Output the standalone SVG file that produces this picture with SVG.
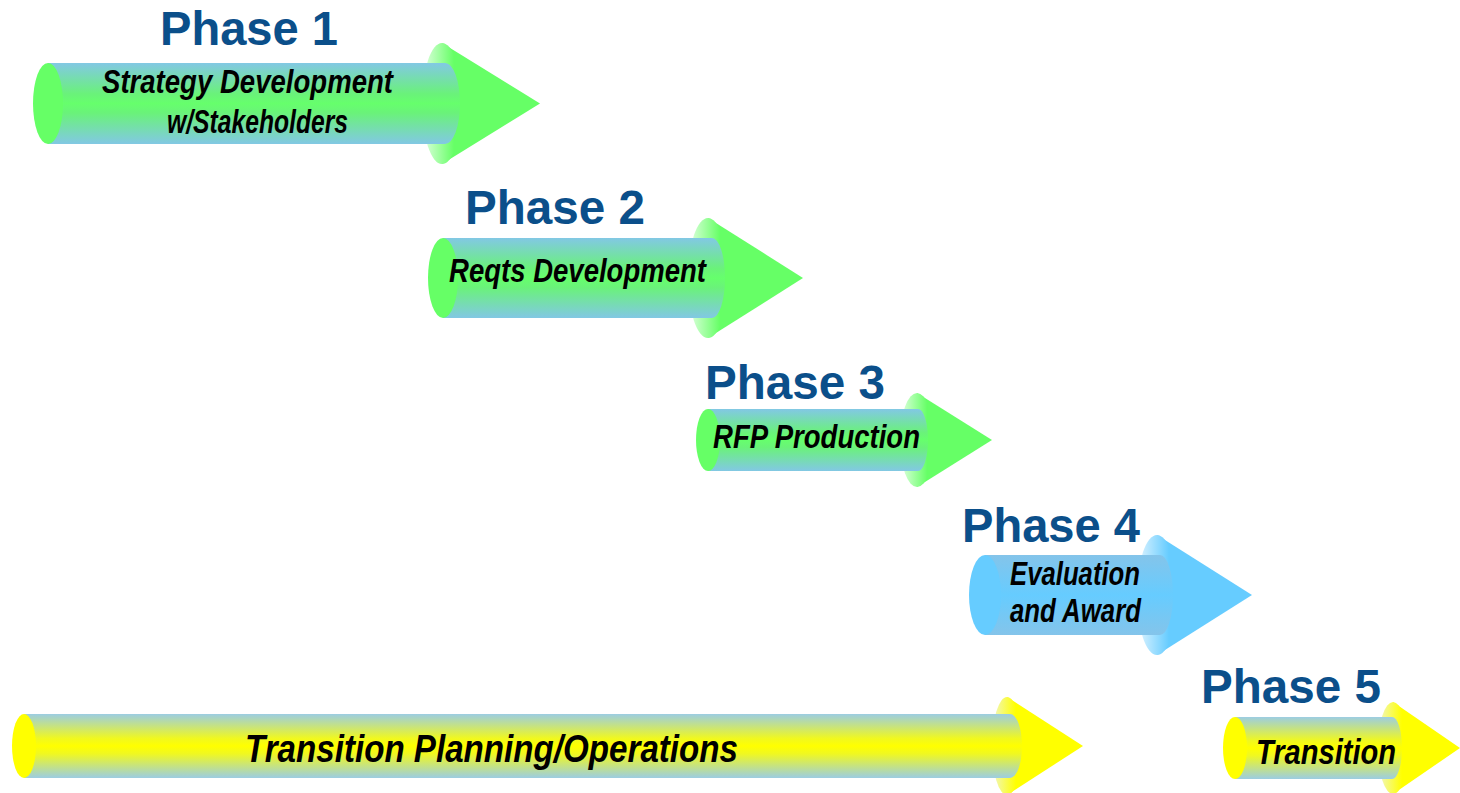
<svg xmlns="http://www.w3.org/2000/svg" width="1460" height="793" viewBox="0 0 1460 793">
<defs>
<linearGradient id="bodyG" x1="0" y1="0" x2="0" y2="1">
<stop offset="0" stop-color="#82c8e4"/><stop offset="0.38" stop-color="#6af27a"/><stop offset="0.5" stop-color="#66ff6c"/><stop offset="0.62" stop-color="#6af27a"/><stop offset="1" stop-color="#82c8e4"/>
</linearGradient>
<linearGradient id="bodyB" x1="0" y1="0" x2="0" y2="1">
<stop offset="0" stop-color="#84c4ea"/><stop offset="0.5" stop-color="#66ccff"/><stop offset="1" stop-color="#84c4ea"/>
</linearGradient>
<linearGradient id="bodyY" x1="0" y1="0" x2="0" y2="1">
<stop offset="0" stop-color="#9ccde2"/><stop offset="0.38" stop-color="#f0f820"/><stop offset="0.5" stop-color="#ffff00"/><stop offset="0.62" stop-color="#f0f820"/><stop offset="1" stop-color="#9ccde2"/>
</linearGradient>
<linearGradient id="baseG" x1="0" y1="0" x2="1" y2="0">
<stop offset="0" stop-color="#e2ffe2"/><stop offset="0.8" stop-color="#66ff66"/>
</linearGradient>
<linearGradient id="baseB" x1="0" y1="0" x2="1" y2="0">
<stop offset="0" stop-color="#e0f4ff"/><stop offset="0.8" stop-color="#66ccff"/>
</linearGradient>
<linearGradient id="baseY" x1="0" y1="0" x2="1" y2="0">
<stop offset="0" stop-color="#f0f6c8"/><stop offset="0.8" stop-color="#ffff00"/>
</linearGradient>
</defs>
<style>
.phase{font-family:"Liberation Sans",Arial,sans-serif;font-weight:bold;font-size:47.5px;fill:#0b4f8a}
.lbl{font-family:"Liberation Sans",Arial,sans-serif;font-weight:bold;font-style:italic;fill:#000}
.g{fill:#66ff66}.b{fill:#66ccff}.y{fill:#ffff00}
</style>
<rect width="1460" height="793" fill="#fff"/>
<g id="connectors"/>

<g id="phase1">
<text class="phase" x="160" y="45" textLength="178" lengthAdjust="spacingAndGlyphs">Phase 1</text>
<polygon class="g" points="442,43 540,103.5 442,164"/>
<ellipse cx="442" cy="103.5" rx="20" ry="60.5" fill="url(#baseG)"/>
<path d="M48,63 L445,63 A15,40.5 0 0 1 445,144 L48,144 Z" fill="url(#bodyG)"/>
<ellipse class="g" cx="48" cy="103.5" rx="15" ry="40.5"/>
<text class="lbl" x="102" y="93" font-size="34" textLength="291" lengthAdjust="spacingAndGlyphs">Strategy Development</text>
<text class="lbl" x="167" y="133" font-size="34" textLength="181" lengthAdjust="spacingAndGlyphs">w/Stakeholders</text>
</g>

<g id="phase2">
<text class="phase" x="465" y="224" textLength="180" lengthAdjust="spacingAndGlyphs">Phase 2</text>
<polygon class="g" points="708,218 803,278 708,338"/>
<ellipse cx="708" cy="278" rx="20" ry="60" fill="url(#baseG)"/>
<path d="M443,238 L712,238 A13,40 0 0 1 712,318 L443,318 Z" fill="url(#bodyG)"/>
<ellipse class="g" cx="443" cy="278" rx="15" ry="40"/>
<text class="lbl" x="449" y="282" font-size="33" textLength="257" lengthAdjust="spacingAndGlyphs">Reqts Development</text>
</g>

<g id="phase3">
<text class="phase" x="705" y="399" textLength="180" lengthAdjust="spacingAndGlyphs">Phase 3</text>
<polygon class="g" points="917,393 992,440 917,487"/>
<ellipse cx="917" cy="440" rx="17" ry="47" fill="url(#baseG)"/>
<path d="M708,409 L918,409 A10,31 0 0 1 918,471 L708,471 Z" fill="url(#bodyG)"/>
<ellipse class="g" cx="708" cy="440" rx="12" ry="31"/>
<text class="lbl" x="713" y="448" font-size="33" textLength="207" lengthAdjust="spacingAndGlyphs">RFP Production</text>
</g>

<g id="phase4">
<text class="phase" x="962" y="542" textLength="178" lengthAdjust="spacingAndGlyphs">Phase 4</text>
<polygon class="b" points="1157,535 1252,595 1157,655"/>
<ellipse cx="1157" cy="595" rx="20" ry="60" fill="url(#baseB)"/>
<path d="M985,555 L1160,555 A13,40 0 0 1 1160,635 L985,635 Z" fill="url(#bodyB)"/>
<ellipse class="b" cx="985" cy="595" rx="16" ry="40"/>
<text class="lbl" x="1010" y="585" font-size="33" textLength="130" lengthAdjust="spacingAndGlyphs">Evaluation</text>
<text class="lbl" x="1010" y="622" font-size="33" textLength="131" lengthAdjust="spacingAndGlyphs">and Award</text>
</g>

<g id="transition-planning">
<polygon class="y" points="1007,697 1083,746 1007,795"/>
<ellipse cx="1007" cy="746" rx="15" ry="49" fill="url(#baseY)"/>
<path d="M24,714 L1010,714 A12,32 0 0 1 1010,778 L24,778 Z" fill="url(#bodyY)"/>
<ellipse class="y" cx="24" cy="746" rx="12" ry="32"/>
<text class="lbl" x="245" y="762" font-size="39" textLength="493" lengthAdjust="spacingAndGlyphs">Transition Planning/Operations</text>
</g>

<g id="phase5">
<text class="phase" x="1201" y="703" textLength="180" lengthAdjust="spacingAndGlyphs">Phase 5</text>
<polygon class="y" points="1393,702 1460,748 1393,794"/>
<ellipse cx="1393" cy="748" rx="15" ry="46" fill="url(#baseY)"/>
<path d="M1235,717 L1392,717 A10,31 0 0 1 1392,779 L1235,779 Z" fill="url(#bodyY)"/>
<ellipse class="y" cx="1235" cy="748" rx="12" ry="31"/>
<text class="lbl" x="1256" y="764" font-size="35" textLength="140" lengthAdjust="spacingAndGlyphs">Transition</text>
</g>
</svg>
